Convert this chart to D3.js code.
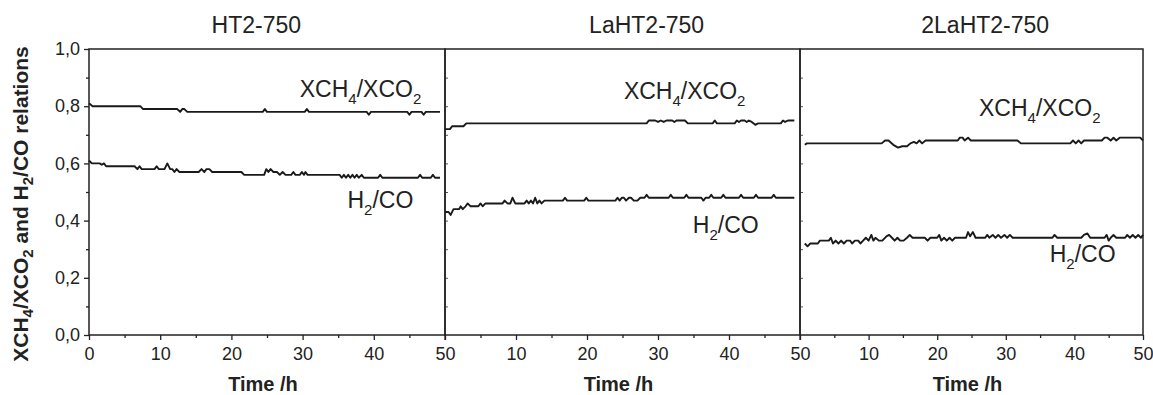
<!DOCTYPE html>
<html>
<head>
<meta charset="utf-8">
<script src="https://cdn.jsdelivr.net/npm/d3@7"></script>
<style>
  body { margin: 0; background: #fff; }
  text { font-family: "Liberation Sans", Arial, sans-serif; fill: #222; }
</style>
</head>
<body>
<script>
// time /h vs ratio
const ht2Xch4 = [
  [0,0.81],[0.5,0.80],[7.2,0.80],[7.6,0.79],[12.4,0.79],[12.8,0.78],[13.1,0.79],[13.4,0.79],[13.8,0.78],
  [24.4,0.78],[24.7,0.79],[25.0,0.78],[30.3,0.78],[30.6,0.79],[30.9,0.78],[39.0,0.78],[39.3,0.77],[39.6,0.78],
  [44.7,0.78],[45.0,0.77],[45.3,0.78],[46.7,0.78],[47.0,0.77],[47.3,0.78],[49.3,0.78]
]
const ht2H2co = [
  [0,0.61],[0.4,0.60],[1.5,0.60],[1.8,0.595],[2.1,0.60],[2.4,0.59],[6.4,0.59],[6.8,0.58],[7.1,0.59],[7.4,0.58],
  [9.2,0.58],[9.5,0.59],[9.8,0.58],[10.6,0.58],[11.0,0.60],[11.4,0.58],[11.7,0.58],[12.0,0.57],[12.3,0.58],[12.7,0.57],
  [15.4,0.57],[15.8,0.58],[16.2,0.57],[16.5,0.58],[16.9,0.58],[17.3,0.57],[21.4,0.57],[21.8,0.56],[24.6,0.56],
  [24.9,0.58],[25.2,0.57],[25.5,0.58],[25.9,0.57],[26.4,0.57],[26.8,0.56],[27.2,0.57],[27.6,0.56],[28.4,0.56],
  [28.7,0.57],[29.0,0.56],[29.6,0.56],[29.9,0.57],[30.2,0.56],[30.4,0.57],[30.7,0.56],[35.2,0.56],[35.5,0.55],
  [35.8,0.56],[36.1,0.55],[36.4,0.56],[36.7,0.55],[37.0,0.56],[37.3,0.55],[37.6,0.56],[37.9,0.55],[38.3,0.56],
  [38.6,0.55],[40.6,0.55],[40.9,0.56],[41.2,0.55],[46.2,0.55],[46.5,0.56],[46.8,0.55],[48.0,0.55],[48.3,0.56],
  [48.6,0.55],[49.3,0.55]
]
const laXch4 = [
  [0,0.72],[0.7,0.72],[1.0,0.73],[2.6,0.73],[3.0,0.74],[28.4,0.74],[28.7,0.75],[29.6,0.75],[30.0,0.745],[30.4,0.75],
  [30.8,0.745],[31.2,0.75],[32.0,0.75],[32.3,0.745],[32.6,0.75],[33.8,0.75],[34.2,0.74],[37.7,0.74],[38.0,0.75],
  [38.3,0.74],[40.8,0.74],[41.1,0.75],[41.4,0.745],[41.7,0.75],[42.2,0.75],[42.5,0.745],[42.8,0.75],[43.2,0.745],
  [43.7,0.735],[44.1,0.74],[47.3,0.74],[47.6,0.75],[47.9,0.745],[48.3,0.75],[49.2,0.75]
]
const laH2co = [
  [0,0.43],[0.5,0.43],[0.8,0.42],[1.2,0.44],[2.0,0.44],[2.2,0.45],[2.5,0.44],[2.9,0.45],[3.2,0.46],[3.6,0.45],
  [4.7,0.45],[5.0,0.46],[5.3,0.45],[5.7,0.46],[8.1,0.46],[8.4,0.47],[8.8,0.46],[9.2,0.46],[9.5,0.48],[9.9,0.46],
  [11.2,0.46],[11.5,0.47],[11.8,0.46],[12.1,0.47],[12.4,0.46],[12.7,0.48],[13.0,0.46],[13.3,0.47],[13.6,0.46],
  [14.0,0.47],[16.6,0.47],[16.9,0.48],[17.2,0.47],[19.6,0.47],[19.9,0.48],[20.2,0.47],[24.0,0.47],[24.3,0.48],
  [24.6,0.47],[24.9,0.48],[25.2,0.48],[25.5,0.47],[25.9,0.48],[26.2,0.48],[26.6,0.47],[27.1,0.47],[27.5,0.48],
  [28.1,0.48],[28.4,0.49],[28.7,0.48],[31.5,0.48],[31.8,0.49],[32.1,0.48],[33.7,0.48],[34.0,0.49],[34.3,0.48],
  [36.1,0.48],[36.4,0.47],[36.7,0.48],[37.2,0.48],[37.5,0.49],[37.8,0.48],[38.9,0.48],[39.2,0.49],[39.5,0.48],
  [41.4,0.48],[41.7,0.49],[42.0,0.48],[43.5,0.48],[43.8,0.49],[44.1,0.48],[46.0,0.48],[46.3,0.49],[46.6,0.48],
  [49.2,0.48]
]
const la2Xch4 = [
  [0.7,0.665],[1.0,0.67],[11.9,0.67],[12.4,0.68],[12.9,0.68],[13.6,0.665],[14.3,0.655],[14.9,0.66],[15.6,0.66],
  [16.1,0.67],[16.6,0.675],[17.0,0.67],[17.4,0.68],[17.8,0.67],[18.3,0.68],[23.0,0.68],[23.3,0.69],[23.7,0.69],
  [24.0,0.68],[24.5,0.69],[24.9,0.68],[31.7,0.68],[32.2,0.67],[32.7,0.67],[39.4,0.67],[39.8,0.68],[40.2,0.67],
  [40.6,0.68],[41.0,0.67],[41.4,0.68],[44.0,0.68],[44.4,0.69],[44.8,0.69],[45.3,0.68],[45.7,0.69],[46.1,0.68],
  [46.6,0.69],[49.6,0.69],[50.0,0.68]
]
const la2H2co = [
  [0.7,0.32],[1.1,0.31],[1.5,0.32],[2.6,0.32],[2.9,0.33],[4.2,0.33],[4.5,0.34],[4.8,0.32],[5.2,0.33],[5.6,0.32],
  [6.0,0.33],[6.4,0.32],[6.8,0.33],[7.3,0.33],[7.6,0.32],[8.0,0.33],[8.5,0.33],[8.8,0.32],[9.2,0.33],[9.6,0.34],
  [10.0,0.33],[10.4,0.35],[10.7,0.33],[11.0,0.34],[11.5,0.33],[12.0,0.33],[12.6,0.345],[13.0,0.35],[13.4,0.34],
  [13.8,0.33],[14.2,0.34],[14.6,0.33],[15.1,0.33],[15.6,0.34],[16.0,0.35],[16.4,0.34],[18.2,0.34],[18.6,0.33],
  [19.0,0.34],[20.0,0.34],[20.3,0.35],[20.6,0.33],[21.0,0.34],[21.4,0.33],[21.8,0.34],[22.2,0.33],[22.6,0.34],
  [24.2,0.34],[24.5,0.36],[24.8,0.345],[25.2,0.36],[25.6,0.34],[27.0,0.34],[27.3,0.35],[27.6,0.34],[28.1,0.35],
  [28.5,0.34],[28.9,0.35],[29.3,0.34],[29.8,0.35],[30.2,0.34],[30.6,0.35],[31.0,0.34],[36.8,0.34],[37.1,0.35],
  [37.5,0.34],[41.0,0.34],[41.4,0.35],[41.9,0.355],[42.3,0.34],[44.4,0.34],[44.7,0.35],[45.0,0.33],[45.3,0.34],
  [45.7,0.35],[46.1,0.34],[47.4,0.34],[47.7,0.35],[48.1,0.34],[48.5,0.35],[48.9,0.34],[49.3,0.35],[49.7,0.34],
  [50,0.35]
]

const panelNames = ["HT2-750", "LaHT2-750", "2LaHT2-750"]
const xTicks = [0, 10, 20, 30, 40, 50]
const xMinor = [5, 15, 25, 35, 45]
const yTicks = [0, 0.2, 0.4, 0.6, 0.8, 1.0]
const yMinor = [0.1, 0.3, 0.5, 0.7, 0.9]

// layout: panel pixel extents and where the texts sit (data units)
const panels = [
  { x0: 89,  x1: 445,  xch4: ht2Xch4, h2co: ht2H2co, titleT: 23.5, xLab: [29.6, 0.833], hLab: [36.3, 0.443] },
  { x0: 445, x1: 800,  xch4: laXch4,  h2co: laH2co,  titleT: 28.4, xLab: [25.2, 0.825], hLab: [34.9, 0.357] },
  { x0: 800, x1: 1143, xch4: la2Xch4, h2co: la2H2co, titleT: 27.0, xLab: [26.1, 0.766], hLab: [36.4, 0.256] }
]

const W = 1153, H = 395
const plotTop = 49, plotBottom = 335

let svg = d3.select("body").append("svg")
            .attr("width", W)
            .attr("height", H)

const y = d3.scaleLinear().domain([0, 1]).range([plotBottom, plotTop])

const line = (x) => d3.line().x(d => x(d[0])).y(d => y(d[1]))

// text with subscripts: parts like {t:"XCH"}, {sub:"4"}
function subText(g, parts, size, subSize, shift) {
  const t = g.append("text").attr("font-size", size)
  let down = false
  parts.forEach(p => {
    if (p.sub) {
      t.append("tspan").attr("font-size", subSize).attr("dy", shift).text(p.sub)
      down = true
    } else {
      t.append("tspan").attr("dy", down ? -shift : null).text(p.t)
      down = false
    }
  })
  return t
}

panels.forEach((p, i) => {
  const x = d3.scaleLinear().domain([0, 50]).range([p.x0, p.x1])
  const g = svg.append("g")

  // x axis, major + minor
  g.append("g")
      .attr("transform", `translate(0,${plotBottom})`)
      .call(d3.axisBottom(x).tickValues(i > 0 ? xTicks.slice(1) : xTicks)
              .tickSize(5).tickSizeOuter(0).tickPadding(7))
      .call(a => a.select(".domain").remove())
      .call(a => a.selectAll("text").attr("font-size", 18).attr("font-family", null))
      .call(a => a.selectAll("line").attr("stroke", "#222").attr("stroke-width", 1.3))
  if (i > 0) {
    g.append("line")
        .attr("x1", x(0)).attr("x2", x(0))
        .attr("y1", plotBottom).attr("y2", plotBottom + 5)
        .attr("stroke", "#222").attr("stroke-width", 1.3)
  }
  g.append("g")
      .attr("transform", `translate(0,${plotBottom})`)
      .call(d3.axisBottom(x).tickValues(xMinor).tickSize(3).tickSizeOuter(0).tickFormat(""))
      .call(a => a.select(".domain").remove())
      .call(a => a.selectAll("text").remove())
      .call(a => a.selectAll("line").attr("stroke", "#222").attr("stroke-width", 1.3))

  if (i === 0) {
    g.append("g")
        .attr("transform", `translate(${p.x0},0)`)
        .call(d3.axisLeft(y).tickValues(yTicks).tickSize(5).tickSizeOuter(0).tickPadding(4)
                .tickFormat(d => d3.format(".1f")(d).replace(".", ",")))
        .call(a => a.select(".domain").remove())
        .call(a => a.selectAll("text").attr("font-size", 18).attr("font-family", null))
        .call(a => a.selectAll("line").attr("stroke", "#222").attr("stroke-width", 1.3))
    g.append("g")
        .attr("transform", `translate(${p.x0},0)`)
        .call(d3.axisLeft(y).tickValues(yMinor).tickSize(3).tickSizeOuter(0).tickFormat(""))
        .call(a => a.select(".domain").remove())
        .call(a => a.selectAll("text").remove())
        .call(a => a.selectAll("line").attr("stroke", "#222").attr("stroke-width", 1.3))
  } else {
    g.append("g")
        .attr("transform", `translate(${p.x0},0)`)
        .call(d3.axisRight(y).tickValues(yMinor.concat(yTicks.slice(1, -1))).tickSize(3).tickSizeOuter(0).tickFormat(""))
        .call(a => a.select(".domain").remove())
        .call(a => a.selectAll("text").remove())
        .call(a => a.selectAll("line").attr("stroke", "#555").attr("stroke-width", 1))
  }

  // panel frame
  g.append("rect")
      .attr("x", p.x0).attr("y", plotTop)
      .attr("width", p.x1 - p.x0).attr("height", plotBottom - plotTop)
      .attr("fill", "none").attr("stroke", "#222").attr("stroke-width", 1.5)

  // data
  g.append("path").datum(p.xch4)
      .attr("d", line(x))
      .attr("fill", "none").attr("stroke", "#1a1a1a").attr("stroke-width", 1.9)
      .attr("stroke-linejoin", "round")
  g.append("path").datum(p.h2co)
      .attr("d", line(x))
      .attr("fill", "none").attr("stroke", "#1a1a1a").attr("stroke-width", 1.9)
      .attr("stroke-linejoin", "round")

  // title
  g.append("text")
      .attr("x", x(p.titleT)).attr("y", 33)
      .attr("text-anchor", "middle")
      .attr("font-size", 23)
      .text(panelNames[i])

  // series labels
  subText(g, [{t: "XCH"}, {sub: "4"}, {t: "/XCO"}, {sub: "2"}], 23, 15, 7)
      .attr("x", x(p.xLab[0])).attr("y", y(p.xLab[1]))
  subText(g, [{t: "H"}, {sub: "2"}, {t: "/CO"}], 23, 15, 7)
      .attr("x", x(p.hLab[0])).attr("y", y(p.hLab[1]))

  // axis title
  g.append("text")
      .attr("x", (p.x0 + p.x1) / 2 - 4).attr("y", 391)
      .attr("text-anchor", "middle")
      .attr("font-size", 20).attr("font-weight", "bold")
      .text("Time /h")
})

// y axis title
const yl = subText(svg.append("g").attr("transform", "translate(28,204) rotate(-90)"),
  [{t: "XCH"}, {sub: "4"}, {t: "/XCO"}, {sub: "2"}, {t: " and H"}, {sub: "2"}, {t: "/CO relations"}], 21, 15, 5)
yl.attr("text-anchor", "middle").attr("font-weight", "bold")
</script>
</body>
</html>
